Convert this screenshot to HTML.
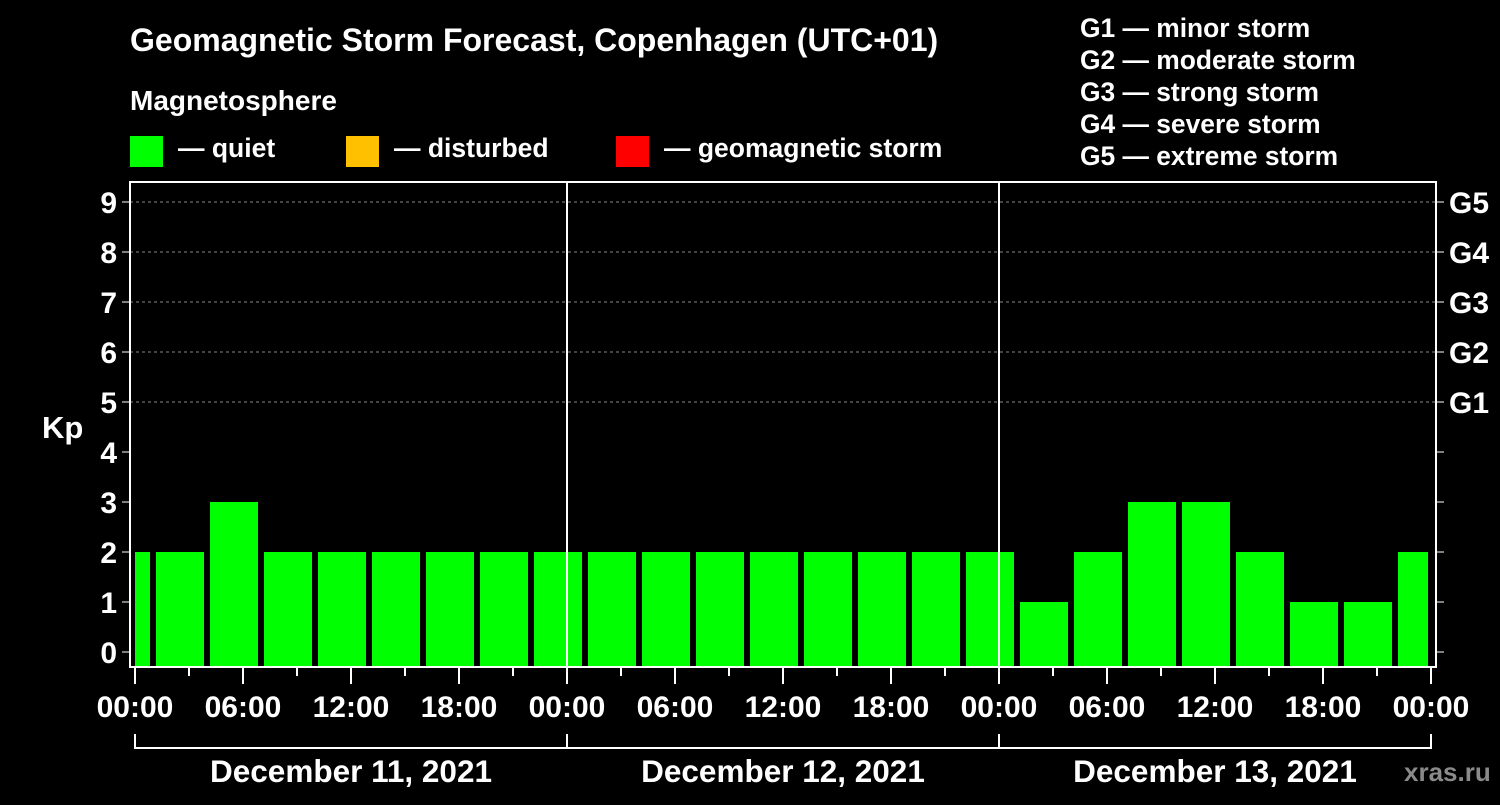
<!DOCTYPE html>
<html><head><meta charset="utf-8"><style>
body{margin:0;background:#000;width:1500px;height:800px;overflow:hidden}
svg text{font-family:"Liberation Sans",Arial,sans-serif;font-weight:bold;fill:#fff}
</style></head><body>
<svg id="c" width="1500" height="800" xmlns="http://www.w3.org/2000/svg">
<text x="130" y="51" font-size="32">Geomagnetic Storm Forecast, Copenhagen (UTC+01)</text>
<text x="130" y="110" font-size="28">Magnetosphere</text>
<rect x="130" y="136" width="33" height="31" fill="#00ff00"/>
<text x="178" y="157" font-size="26.5">— quiet</text>
<rect x="346" y="136" width="33" height="31" fill="#ffc000"/>
<text x="394" y="157" font-size="26.5">— disturbed</text>
<rect x="616" y="136" width="33" height="31" fill="#ff0000"/>
<text x="664" y="157" font-size="26.5">— geomagnetic storm</text>
<g font-size="26.4">
<text x="1080" y="37">G1 — minor storm</text>
<text x="1080" y="69">G2 — moderate storm</text>
<text x="1080" y="101">G3 — strong storm</text>
<text x="1080" y="133">G4 — severe storm</text>
<text x="1080" y="165">G5 — extreme storm</text>
</g>
<text x="42" y="438" font-size="31">Kp</text>
<text x="1404" y="781" font-size="26" style="fill:#8a8a8a">xras.ru</text>
<g id="g"></g>
</svg>
<script>
const kpValues=[2,2,3,2,2,2,2,2,2, 2,2,2,2,2,2,2,2, 1,2,3,3,2,1,1,2];
const yTicks=[0,1,2,3,4,5,6,7,8,9];
const gLabels=['G1','G2','G3','G4','G5'];
const xLabels=['00:00','06:00','12:00','18:00','00:00','06:00','12:00','18:00','00:00','06:00','12:00','18:00','00:00'];
const dayLabels=['December 11, 2021','December 12, 2021','December 13, 2021'];
const X0=135,PH=18,L=130,R=1436,T=182,B=667;
const x=h=>X0+h*PH, y=v=>652-v*50;
const g=document.getElementById('g'),NS='http://www.w3.org/2000/svg';
function mk(t,a){const e=document.createElementNS(NS,t);for(const k in a)e.setAttribute(k,a[k]);g.appendChild(e);return e;}
yTicks.forEach(v=>{
 if(v>=5){const l=mk('line',{x1:L,x2:R,y1:y(v),y2:y(v),stroke:'#888','stroke-dasharray':'3,3','stroke-width':1});
 
 }
 const t=mk('text',{x:117,y:y(v)+11,'font-size':30,'text-anchor':'end'});t.textContent=v;
 
 
 mk('line',{x1:L-8,x2:L,y1:y(v),y2:y(v),stroke:'#fff'});
 mk('line',{x1:R,x2:R+8,y1:y(v),y2:y(v),stroke:'#fff'});
});
gLabels.forEach((s,i)=>{const t=mk('text',{x:1449,y:y(5+i)+11,'font-size':30});t.textContent=s;
 
 });
kpValues.forEach((v,i)=>{
 const h0=-2+3*i,h1=h0+3;
 let a=x(h0)+3,b=x(h1)-3;
 if(a<x(0))a=x(0); if(b>x(72)-3)b=x(72)-3;
 const r=mk('rect',{x:a,y:y(v),width:b-a,height:B-y(v),fill:'#00ff00'});
 
 
});
[1,2].forEach(d=>mk('line',{x1:x(24*d),x2:x(24*d),y1:T,y2:B,stroke:'#fff','stroke-width':2}));
const fr=mk('rect',{x:L,y:T,width:R-L,height:B-T,fill:'none',stroke:'#fff','stroke-width':2});


for(let h=3;h<72;h+=6)mk('line',{x1:x(h),x2:x(h),y1:B,y2:B+9,stroke:'#fff','stroke-width':2});
xLabels.forEach((s,i)=>{
 mk('line',{x1:x(6*i),x2:x(6*i),y1:B,y2:B+17,stroke:'#fff','stroke-width':2});
 const t=mk('text',{x:x(6*i),y:717,'font-size':30,'text-anchor':'middle'});t.textContent=s;
 
 
});
mk('line',{x1:x(0),x2:x(72),y1:748,y2:748,stroke:'#fff','stroke-width':2});
[0,1,2,3].forEach(d=>mk('line',{x1:x(24*d),x2:x(24*d),y1:734,y2:749,stroke:'#fff','stroke-width':2}));
dayLabels.forEach((s,i)=>{const t=mk('text',{x:x(24*i+12),y:782,'font-size':31.5,'text-anchor':'middle'});t.textContent=s;
 
 });
</script>
</body></html>
